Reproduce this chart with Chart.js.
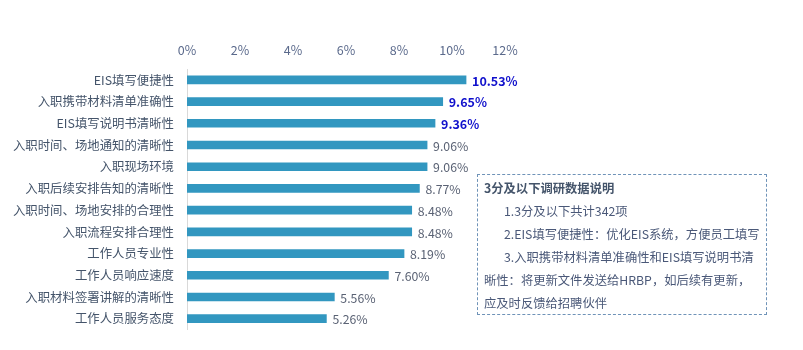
<!DOCTYPE html>
<html><head><meta charset="utf-8">
<script src="https://cdn.jsdelivr.net/npm/chart.js@4/dist/chart.umd.min.js"></script>
<style>
html,body{margin:0;padding:0;background:#fff;}
#wrap{position:relative;width:803px;height:350px;}
#note{position:absolute;left:477px;top:174px;width:290px;height:141px;box-sizing:border-box;border:1px dashed #6f93b8;
 font-family:"Noto Sans CJK SC","Noto Sans",sans-serif;font-size:12.3px;color:#4a5878;padding:2px 0 0 6px;line-height:23px;white-space:nowrap;}
#note .t{font-weight:bold;color:#44546a;}
#note .i{padding-left:20px;}
</style></head>
<body><div id="wrap"><canvas id="c" width="803" height="350"></canvas>
<div id="note">
<div class="t">3分及以下调研数据说明</div>
<div class="i">1.3分及以下共计342项</div>
<div class="i">2.EIS填写便捷性：优化EIS系统，方便员工填写</div>
<div class="i">3.入职携带材料清单准确性和EIS填写说明书清</div>
<div>晰性：将更新文件发送给HRBP，如后续有更新，</div>
<div>应及时反馈给招聘伙伴</div>
</div></div>
<script>
const categories = ["EIS填写便捷性","入职携带材料清单准确性","EIS填写说明书清晰性","入职时间、场地通知的清晰性","入职现场环境","入职后续安排告知的清晰性","入职时间、场地安排的合理性","入职流程安排合理性","工作人员专业性","工作人员响应速度","入职材料签署讲解的清晰性","工作人员服务态度"];
const values = [10.53,9.65,9.36,9.06,9.06,8.77,8.48,8.48,8.19,7.60,5.56,5.26];
const highlighted = [true,true,true,false,false,false,false,false,false,false,false,false];
const tickValues = [0,2,4,6,8,10,12];

const FONT = '"Noto Sans CJK SC","Noto Sans",sans-serif';
const valueLabels = {
  id:'valueLabels',
  afterDatasetsDraw(chart){
    const ctx = chart.ctx;
    const meta = chart.getDatasetMeta(0);
    ctx.save();
    ctx.textBaseline='middle';
    ctx.textAlign='left';
    meta.data.forEach((bar,i)=>{
      const hl = highlighted[i];
      ctx.font = (hl?'bold 12.5px ':'12.3px ')+FONT;
      ctx.fillStyle = hl ? '#1010cc' : '#5a6274';
      ctx.fillText(values[i].toFixed(2)+'%', bar.x+6, bar.y+1);
    });
    ctx.restore();
  }
};

new Chart(document.getElementById('c'),{
  type:'bar',
  data:{labels:categories,datasets:[{data:values,backgroundColor:'#3297c0',barThickness:8}]},
  options:{
    indexAxis:'y',responsive:false,animation:false,
    layout:{padding:{left:0,right:298,top:40,bottom:16}},
    plugins:{legend:{display:false},tooltip:{enabled:false}},
    scales:{
      x:{position:'top',min:0,max:12,
        afterBuildTicks(s){s.ticks=tickValues.map(v=>({value:v}));},
        afterFit(s){s.height=29;},
        grid:{display:false,drawTicks:false},border:{display:false},
        ticks:{padding:11,color:'#5b6a8c',font:{family:FONT,size:12.5},callback:v=>v+'%'}},
      y:{afterFit(s){s.width=187;},
        grid:{display:false,drawTicks:false},border:{display:true,color:'#d9d9d9',width:1},
        ticks:{padding:13,color:'#44546a',font:{family:FONT,size:12.4}}}
    }
  },
  plugins:[valueLabels]
});
</script></body></html>
